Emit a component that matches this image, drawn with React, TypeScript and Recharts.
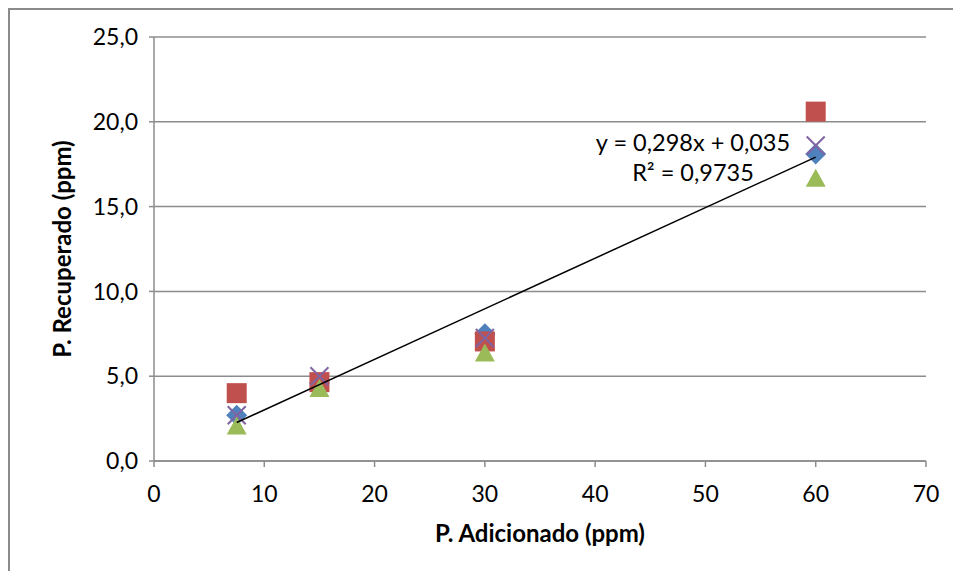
import { ScatterChart, Scatter, XAxis, YAxis, CartesianGrid } from 'recharts';

// P. Adicionado (ppm) vs P. Recuperado (ppm), four replicates
const added = [7.5, 15, 30, 60];
const serie1 = [2.7, 4.6, 7.5, 18.1];
const serie2 = [4.0, 4.65, 7.05, 20.6];
const serie3 = [2.7, 5.0, 7.25, 18.6];
const serie4 = [2.1, 4.3, 6.4, 16.7];
const trendX = [7.5, 60];
const trendY = [2.27, 17.92];
const xTicks = [0, 10, 20, 30, 40, 50, 60, 70];
const yTicks = [0, 5, 10, 15, 20, 25];

const toPts = (ys: number[]) => added.map((x, i) => ({ x, y: ys[i] }));
const trend = trendX.map((x, i) => ({ x, y: trendY[i] }));

const FONT = 'Lato, "Open Sans", sans-serif';
const GRID = '#8c8c8c';

const Diamond = (p: any) => (
  <polygon
    points={`${p.cx},${p.cy - 10.5} ${p.cx + 10.5},${p.cy} ${p.cx},${p.cy + 10.5} ${p.cx - 10.5},${p.cy}`}
    fill="#4F81BD"
  />
);
const Square = (p: any) => <rect x={p.cx - 10} y={p.cy - 10} width={20} height={20} fill="#C0504D" />;
const Cross = (p: any) => (
  <g stroke="#8064A2" strokeWidth={2}>
    <line x1={p.cx - 9} y1={p.cy - 9} x2={p.cx + 9} y2={p.cy + 9} />
    <line x1={p.cx - 9} y1={p.cy + 9} x2={p.cx + 9} y2={p.cy - 9} />
  </g>
);
const Triangle = (p: any) => (
  <polygon points={`${p.cx},${p.cy - 9} ${p.cx + 10},${p.cy + 9} ${p.cx - 10},${p.cy + 9}`} fill="#9BBB59" />
);

const fmtY = (v: number) => v.toFixed(1).replace('.', ',');

export default function App() {
  return (
    <div style={{ position: 'relative', width: 953, height: 563, overflow: 'hidden', background: '#fff' }}>
      <ScatterChart width={953} height={563} margin={{ top: 29, right: 35, bottom: 0, left: 0 }}>
        <CartesianGrid vertical={false} stroke={GRID} strokeWidth={1.5} />
        <XAxis
          type="number"
          dataKey="x"
          domain={[0, 70]}
          ticks={xTicks}
          height={110}
          stroke={GRID}
          strokeWidth={1.5}
          tickSize={6}
          tickMargin={19}
          tick={{ fill: '#000', fontSize: 23, fontFamily: FONT }}
          label={{
            value: 'P. Adicionado (ppm)',
            position: 'insideBottom',
            offset: 29,
            style: { fill: '#000', fontSize: 24, fontWeight: 'bold', fontFamily: FONT },
          }}
        />
        <YAxis
          type="number"
          dataKey="y"
          domain={[0, 25]}
          ticks={yTicks}
          width={146}
          stroke={GRID}
          strokeWidth={1.5}
          tickSize={5}
          tickMargin={11}
          tickFormatter={fmtY}
          tick={{ fill: '#000', fontSize: 23, fontFamily: FONT }}
          label={{
            value: 'P. Recuperado (ppm)',
            angle: -90,
            position: 'insideLeft',
            offset: 54,
            style: { fill: '#000', fontSize: 24, fontWeight: 'bold', fontFamily: FONT, textAnchor: 'middle' },
          }}
        />
        <Scatter data={toPts(serie1)} shape={Diamond} isAnimationActive={false} />
        <Scatter data={toPts(serie2)} shape={Square} isAnimationActive={false} />
        <Scatter data={toPts(serie3)} shape={Cross} isAnimationActive={false} />
        <Scatter data={toPts(serie4)} shape={Triangle} isAnimationActive={false} />
        <Scatter
          data={trend}
          line={{ stroke: '#000', strokeWidth: 1.5 }}
          shape={() => <g />}
          isAnimationActive={false}
        />
      </ScatterChart>
      <div
        style={{
          position: 'absolute',
          left: 535,
          top: 119,
          width: 300,
          textAlign: 'center',
          fontFamily: FONT,
          fontSize: 23.5,
          lineHeight: '30px',
          color: '#000',
        }}
      >
        <div>y = 0,298x + 0,035</div>
        <div>R² = 0,9735</div>
      </div>
      <div
        style={{
          position: 'absolute',
          left: 0,
          top: 0,
          width: 2000,
          height: 2000,
          borderTop: '2px solid #8a8a8a',
          borderLeft: '2px solid #8a8a8a',
          pointerEvents: 'none',
        }}
      />
    </div>
  );
}
